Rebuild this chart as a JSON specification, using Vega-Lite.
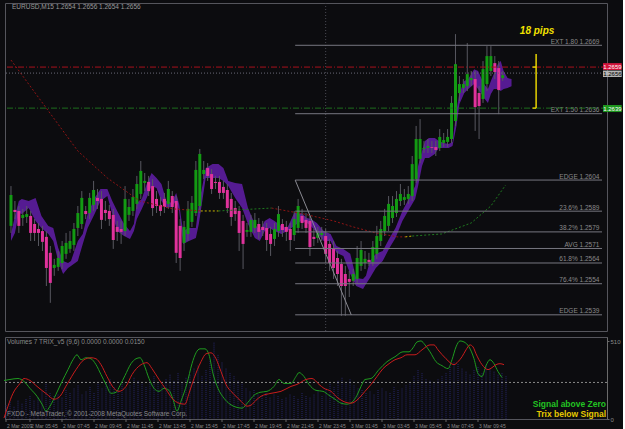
{
"$schema":"https://vega.github.io/schema/vega-lite/v6.json",
"background":"#0c0c0f",
"padding":{"left":1,"top":2,"right":0,"bottom":0},
"spacing":4,
"resolve":{"scale":{"color":"independent","x":"independent"},"axis":{"x":"independent"}},
"config":{"view":{"stroke":"#55555c","strokeWidth":1},"font":"Liberation Sans","axis":{"labelFont":"Liberation Sans","grid":false}},
"datasets":{
"candles":[
{"i":0,"o":1.25819,"c":1.25968,"h":1.26011,"l":1.25785,"v":90},
{"i":1,"o":1.25896,"c":1.25886,"h":1.25939,"l":1.25852,"v":110},
{"i":2,"o":1.25891,"c":1.25819,"h":1.25915,"l":1.25785,"v":80},
{"i":3,"o":1.25857,"c":1.25872,"h":1.25901,"l":1.25819,"v":120},
{"i":4,"o":1.25862,"c":1.25876,"h":1.25915,"l":1.25833,"v":100},
{"i":5,"o":1.25867,"c":1.25785,"h":1.25891,"l":1.25746,"v":130},
{"i":6,"o":1.25828,"c":1.25785,"h":1.25852,"l":1.25746,"v":150},
{"i":7,"o":1.25804,"c":1.25785,"h":1.25833,"l":1.25722,"v":120},
{"i":8,"o":1.25794,"c":1.25742,"h":1.25819,"l":1.25698,"v":140},
{"i":9,"o":1.25766,"c":1.25616,"h":1.25794,"l":1.25529,"v":180},
{"i":10,"o":1.25689,"c":1.25544,"h":1.25722,"l":1.25448,"v":230},
{"i":11,"o":1.25616,"c":1.25631,"h":1.25660,"l":1.25578,"v":170},
{"i":12,"o":1.25621,"c":1.25664,"h":1.25698,"l":1.25602,"v":150},
{"i":13,"o":1.25640,"c":1.25722,"h":1.25746,"l":1.25611,"v":160},
{"i":14,"o":1.25684,"c":1.25737,"h":1.25785,"l":1.25660,"v":140},
{"i":15,"o":1.25708,"c":1.25746,"h":1.25794,"l":1.25689,"v":190},
{"i":16,"o":1.25727,"c":1.25804,"h":1.25833,"l":1.25698,"v":170},
{"i":17,"o":1.25809,"c":1.25881,"h":1.25915,"l":1.25770,"v":200},
{"i":18,"o":1.25828,"c":1.25954,"h":1.25987,"l":1.25804,"v":220},
{"i":19,"o":1.25891,"c":1.25876,"h":1.25915,"l":1.25852,"v":160},
{"i":20,"o":1.25881,"c":1.25954,"h":1.25978,"l":1.25852,"v":180},
{"i":21,"o":1.25920,"c":1.25992,"h":1.26036,"l":1.25891,"v":210},
{"i":22,"o":1.25954,"c":1.25939,"h":1.25997,"l":1.25901,"v":170},
{"i":23,"o":1.25949,"c":1.25848,"h":1.25987,"l":1.25804,"v":230},
{"i":24,"o":1.25896,"c":1.25881,"h":1.25939,"l":1.25843,"v":200},
{"i":25,"o":1.25891,"c":1.25852,"h":1.25920,"l":1.25819,"v":240},
{"i":26,"o":1.25872,"c":1.25751,"h":1.25901,"l":1.25708,"v":260},
{"i":27,"o":1.25814,"c":1.25790,"h":1.25843,"l":1.25746,"v":210},
{"i":28,"o":1.25804,"c":1.25790,"h":1.25843,"l":1.25732,"v":190},
{"i":29,"o":1.25794,"c":1.25949,"h":1.26011,"l":1.25770,"v":230},
{"i":30,"o":1.25872,"c":1.25910,"h":1.25949,"l":1.25843,"v":200},
{"i":31,"o":1.25891,"c":1.25958,"h":1.25997,"l":1.25867,"v":220},
{"i":32,"o":1.25925,"c":1.26021,"h":1.26060,"l":1.25901,"v":270},
{"i":33,"o":1.25973,"c":1.26084,"h":1.26132,"l":1.25949,"v":250},
{"i":34,"o":1.26026,"c":1.26036,"h":1.26074,"l":1.25987,"v":230},
{"i":35,"o":1.26031,"c":1.25987,"h":1.26060,"l":1.25963,"v":210},
{"i":36,"o":1.26011,"c":1.25905,"h":1.26045,"l":1.25867,"v":240},
{"i":37,"o":1.25949,"c":1.25915,"h":1.25987,"l":1.25881,"v":280},
{"i":38,"o":1.25920,"c":1.25891,"h":1.25958,"l":1.25867,"v":230},
{"i":39,"o":1.25949,"c":1.25910,"h":1.25978,"l":1.25881,"v":220},
{"i":40,"o":1.25925,"c":1.25997,"h":1.26036,"l":1.25901,"v":260},
{"i":41,"o":1.25963,"c":1.25910,"h":1.25987,"l":1.25881,"v":290},
{"i":42,"o":1.25939,"c":1.25689,"h":1.25963,"l":1.25640,"v":250},
{"i":43,"o":1.25819,"c":1.25664,"h":1.25852,"l":1.25602,"v":300},
{"i":44,"o":1.25737,"c":1.25814,"h":1.25843,"l":1.25698,"v":240},
{"i":45,"o":1.25780,"c":1.25901,"h":1.25939,"l":1.25746,"v":270},
{"i":46,"o":1.25838,"c":1.25930,"h":1.25963,"l":1.25814,"v":290},
{"i":47,"o":1.25881,"c":1.26089,"h":1.26132,"l":1.25867,"v":330},
{"i":48,"o":1.25915,"c":1.26166,"h":1.26190,"l":1.25881,"v":350},
{"i":49,"o":1.26069,"c":1.26089,"h":1.26132,"l":1.26045,"v":280},
{"i":50,"o":1.26098,"c":1.26060,"h":1.26122,"l":1.26036,"v":320},
{"i":51,"o":1.26069,"c":1.25997,"h":1.26093,"l":1.25973,"v":380},
{"i":52,"o":1.26031,"c":1.26026,"h":1.26060,"l":1.25997,"v":500},
{"i":53,"o":1.26031,"c":1.25978,"h":1.26060,"l":1.25949,"v":420},
{"i":54,"o":1.26007,"c":1.25978,"h":1.26036,"l":1.25949,"v":370},
{"i":55,"o":1.25992,"c":1.25905,"h":1.26021,"l":1.25881,"v":330},
{"i":56,"o":1.25949,"c":1.25862,"h":1.25978,"l":1.25819,"v":300},
{"i":57,"o":1.25905,"c":1.25876,"h":1.25939,"l":1.25843,"v":280},
{"i":58,"o":1.25891,"c":1.25785,"h":1.25915,"l":1.25698,"v":250},
{"i":59,"o":1.25843,"c":1.25732,"h":1.25872,"l":1.25611,"v":230},
{"i":60,"o":1.25790,"c":1.25799,"h":1.25833,"l":1.25766,"v":200},
{"i":61,"o":1.25790,"c":1.25848,"h":1.25872,"l":1.25766,"v":180},
{"i":62,"o":1.25809,"c":1.25848,"h":1.25881,"l":1.25785,"v":190},
{"i":63,"o":1.25828,"c":1.25790,"h":1.25857,"l":1.25756,"v":160},
{"i":64,"o":1.25814,"c":1.25799,"h":1.25843,"l":1.25770,"v":150},
{"i":65,"o":1.25809,"c":1.25751,"h":1.25833,"l":1.25698,"v":170},
{"i":66,"o":1.25780,"c":1.25732,"h":1.25814,"l":1.25674,"v":140},
{"i":67,"o":1.25756,"c":1.25804,"h":1.25833,"l":1.25722,"v":160},
{"i":68,"o":1.25794,"c":1.25876,"h":1.25915,"l":1.25766,"v":150},
{"i":69,"o":1.25828,"c":1.25799,"h":1.25852,"l":1.25766,"v":130},
{"i":70,"o":1.25814,"c":1.25790,"h":1.25843,"l":1.25746,"v":140},
{"i":71,"o":1.25804,"c":1.25751,"h":1.25833,"l":1.25698,"v":160},
{"i":72,"o":1.25775,"c":1.25852,"h":1.25891,"l":1.25746,"v":150},
{"i":73,"o":1.25809,"c":1.25915,"h":1.25949,"l":1.25785,"v":130},
{"i":74,"o":1.25867,"c":1.25833,"h":1.25901,"l":1.25804,"v":170},
{"i":75,"o":1.25848,"c":1.25809,"h":1.25881,"l":1.25785,"v":150},
{"i":76,"o":1.25843,"c":1.25717,"h":1.25867,"l":1.25674,"v":140},
{"i":77,"o":1.25766,"c":1.25756,"h":1.25804,"l":1.25722,"v":160},
{"i":78,"o":1.25761,"c":1.25785,"h":1.25814,"l":1.25737,"v":180},
{"i":79,"o":1.25775,"c":1.25785,"h":1.25814,"l":1.25746,"v":150},
{"i":80,"o":1.25770,"c":1.25684,"h":1.25804,"l":1.25640,"v":200},
{"i":81,"o":1.25732,"c":1.25640,"h":1.25756,"l":1.25602,"v":230},
{"i":82,"o":1.25708,"c":1.25616,"h":1.25746,"l":1.25563,"v":210},
{"i":83,"o":1.25664,"c":1.25587,"h":1.25698,"l":1.25529,"v":250},
{"i":84,"o":1.25635,"c":1.25529,"h":1.25660,"l":1.25385,"v":270},
{"i":85,"o":1.25587,"c":1.25529,"h":1.25626,"l":1.25385,"v":240},
{"i":86,"o":1.25563,"c":1.25549,"h":1.25602,"l":1.25476,"v":260},
{"i":87,"o":1.25554,"c":1.25587,"h":1.25611,"l":1.25529,"v":220},
{"i":88,"o":1.25563,"c":1.25664,"h":1.25722,"l":1.25544,"v":200},
{"i":89,"o":1.25626,"c":1.25703,"h":1.25746,"l":1.25602,"v":190},
{"i":90,"o":1.25640,"c":1.25660,"h":1.25698,"l":1.25611,"v":170},
{"i":91,"o":1.25655,"c":1.25645,"h":1.25689,"l":1.25626,"v":180},
{"i":92,"o":1.25645,"c":1.25717,"h":1.25746,"l":1.25626,"v":160},
{"i":93,"o":1.25684,"c":1.25770,"h":1.25819,"l":1.25660,"v":190},
{"i":94,"o":1.25746,"c":1.25804,"h":1.25843,"l":1.25722,"v":200},
{"i":95,"o":1.25794,"c":1.25867,"h":1.25901,"l":1.25770,"v":180},
{"i":96,"o":1.25819,"c":1.25925,"h":1.25963,"l":1.25794,"v":170},
{"i":97,"o":1.25857,"c":1.25915,"h":1.25963,"l":1.25833,"v":210},
{"i":98,"o":1.25881,"c":1.25949,"h":1.25987,"l":1.25862,"v":190},
{"i":99,"o":1.25939,"c":1.25973,"h":1.26021,"l":1.25915,"v":200},
{"i":100,"o":1.25944,"c":1.25958,"h":1.25997,"l":1.25920,"v":220},
{"i":101,"o":1.25949,"c":1.25973,"h":1.26011,"l":1.25925,"v":240},
{"i":102,"o":1.25963,"c":1.26117,"h":1.26156,"l":1.25939,"v":280},
{"i":103,"o":1.26045,"c":1.26238,"h":1.26301,"l":1.26026,"v":320},
{"i":104,"o":1.26142,"c":1.26238,"h":1.26334,"l":1.26122,"v":300},
{"i":105,"o":1.26190,"c":1.26195,"h":1.26228,"l":1.26171,"v":260},
{"i":106,"o":1.26195,"c":1.26204,"h":1.26238,"l":1.26171,"v":250},
{"i":107,"o":1.26199,"c":1.26195,"h":1.26228,"l":1.26171,"v":240},
{"i":108,"o":1.26199,"c":1.26185,"h":1.26228,"l":1.26156,"v":260},
{"i":109,"o":1.26195,"c":1.26248,"h":1.26286,"l":1.26180,"v":280},
{"i":110,"o":1.26219,"c":1.26233,"h":1.26267,"l":1.26199,"v":300},
{"i":111,"o":1.26224,"c":1.26248,"h":1.26286,"l":1.26199,"v":340},
{"i":112,"o":1.26238,"c":1.26412,"h":1.26445,"l":1.26219,"v":370},
{"i":113,"o":1.26325,"c":1.26599,"h":1.26744,"l":1.26301,"v":360},
{"i":114,"o":1.26460,"c":1.26503,"h":1.26542,"l":1.26421,"v":330},
{"i":115,"o":1.26484,"c":1.26503,"h":1.26527,"l":1.26460,"v":310},
{"i":116,"o":1.26493,"c":1.26551,"h":1.26701,"l":1.26469,"v":290},
{"i":117,"o":1.26522,"c":1.26532,"h":1.26566,"l":1.26493,"v":320},
{"i":118,"o":1.26527,"c":1.26392,"h":1.26566,"l":1.26277,"v":340},
{"i":119,"o":1.26460,"c":1.26397,"h":1.26493,"l":1.26238,"v":300},
{"i":120,"o":1.26431,"c":1.26575,"h":1.26614,"l":1.26412,"v":350},
{"i":121,"o":1.26503,"c":1.26638,"h":1.26686,"l":1.26469,"v":330},
{"i":122,"o":1.26566,"c":1.26638,"h":1.26686,"l":1.26542,"v":310},
{"i":123,"o":1.26604,"c":1.26561,"h":1.26638,"l":1.26527,"v":290},
{"i":124,"o":1.26580,"c":1.26474,"h":1.26614,"l":1.26358,"v":300},
{"i":125,"o":1.26532,"c":1.26546,"h":1.26566,"l":1.26518,"v":280}
],
"band":[
{"i":0,"t":1.25780,"b":1.25746},{"i":1,"t":1.25867,"b":1.25785},{"i":2,"t":1.25939,"b":1.25881},{"i":2.75,"t":1.25949,"b":1.25876},
{"i":4.5,"t":1.25939,"b":1.25905},{"i":6.25,"t":1.25954,"b":1.25843},{"i":7.75,"t":1.25867,"b":1.25809},{"i":9.5,"t":1.25819,"b":1.25780},
{"i":10.75,"t":1.25809,"b":1.25746},{"i":12,"t":1.25713,"b":1.25650},{"i":13.25,"t":1.25650,"b":1.25587},{"i":14.5,"t":1.25640,"b":1.25616},
{"i":15.25,"t":1.25650,"b":1.25626},{"i":17,"t":1.25746,"b":1.25650},{"i":18.25,"t":1.25780,"b":1.25732},{"i":19.5,"t":1.25876,"b":1.25809},
{"i":21.25,"t":1.25954,"b":1.25876},{"i":22.75,"t":1.25997,"b":1.25939},{"i":24.5,"t":1.25997,"b":1.25963},{"i":25.75,"t":1.25939,"b":1.25876},
{"i":27,"t":1.25891,"b":1.25794},{"i":28.75,"t":1.25828,"b":1.25770},{"i":30.25,"t":1.25794,"b":1.25756},{"i":31.25,"t":1.25828,"b":1.25794},
{"i":32,"t":1.25930,"b":1.25852},{"i":33.25,"t":1.25949,"b":1.25901},{"i":34.5,"t":1.26021,"b":1.25954},{"i":35.75,"t":1.26074,"b":1.26011},
{"i":37,"t":1.26050,"b":1.26002},{"i":38.25,"t":1.26021,"b":1.25939},{"i":39.5,"t":1.25939,"b":1.25905},{"i":40.75,"t":1.25930,"b":1.25910},
{"i":42,"t":1.25978,"b":1.25939},{"i":42.75,"t":1.25925,"b":1.25891},{"i":43.75,"t":1.25794,"b":1.25732},{"i":45.25,"t":1.25809,"b":1.25746},
{"i":47,"t":1.25809,"b":1.25761},{"i":47.75,"t":1.25925,"b":1.25828},{"i":48.75,"t":1.26021,"b":1.25954},{"i":49.5,"t":1.26098,"b":1.26050},
{"i":51.25,"t":1.26117,"b":1.26050},{"i":52.75,"t":1.26117,"b":1.26050},{"i":54,"t":1.26098,"b":1.26036},{"i":55.25,"t":1.26036,"b":1.26011},
{"i":57,"t":1.26026,"b":1.25954},{"i":58.75,"t":1.26021,"b":1.25905},{"i":60.25,"t":1.25905,"b":1.25828},{"i":62,"t":1.25828,"b":1.25761},
{"i":63.25,"t":1.25794,"b":1.25746},{"i":64.5,"t":1.25843,"b":1.25794},{"i":65.75,"t":1.25857,"b":1.25809},{"i":67,"t":1.25843,"b":1.25794},
{"i":68.75,"t":1.25819,"b":1.25780},{"i":70.25,"t":1.25809,"b":1.25794},{"i":72,"t":1.25881,"b":1.25819},{"i":73.75,"t":1.25881,"b":1.25843},
{"i":75.25,"t":1.25857,"b":1.25833},{"i":76.25,"t":1.25852,"b":1.25819},{"i":77.75,"t":1.25833,"b":1.25785},{"i":79.5,"t":1.25794,"b":1.25746},
{"i":81.25,"t":1.25780,"b":1.25746},{"i":82.75,"t":1.25722,"b":1.25689},{"i":84.5,"t":1.25708,"b":1.25674},{"i":86.25,"t":1.25684,"b":1.25587},
{"i":87.75,"t":1.25568,"b":1.25529},{"i":89.5,"t":1.25563,"b":1.25515},{"i":90.25,"t":1.25578,"b":1.25539},{"i":91.25,"t":1.25650,"b":1.25568},
{"i":92.75,"t":1.25684,"b":1.25616},{"i":94.5,"t":1.25698,"b":1.25650},{"i":96.25,"t":1.25761,"b":1.25713},{"i":97.75,"t":1.25809,"b":1.25761},
{"i":99.5,"t":1.25891,"b":1.25843},{"i":101.25,"t":1.25954,"b":1.25901},{"i":102.75,"t":1.26011,"b":1.25949},{"i":103.5,"t":1.26108,"b":1.26011},
{"i":104.5,"t":1.26180,"b":1.26108},{"i":105.25,"t":1.26228,"b":1.26146},{"i":106.25,"t":1.26243,"b":1.26146},{"i":107.75,"t":1.26243,"b":1.26166},
{"i":108.75,"t":1.26228,"b":1.26195},{"i":110,"t":1.26219,"b":1.26195},{"i":111.25,"t":1.26214,"b":1.26195},{"i":112.25,"t":1.26224,"b":1.26204},
{"i":113.25,"t":1.26373,"b":1.26301},{"i":114,"t":1.26460,"b":1.26407},{"i":115.25,"t":1.26518,"b":1.26460},{"i":116.25,"t":1.26527,"b":1.26479},
{"i":117.75,"t":1.26575,"b":1.26503},{"i":118.75,"t":1.26566,"b":1.26479},{"i":120.25,"t":1.26503,"b":1.26436},{"i":121.25,"t":1.26479,"b":1.26412},
{"i":122,"t":1.26518,"b":1.26455},{"i":122.75,"t":1.26551,"b":1.26479},{"i":123.75,"t":1.26599,"b":1.26479},{"i":124.5,"t":1.26614,"b":1.26469},
{"i":125.25,"t":1.26566,"b":1.26479},{"i":126.25,"t":1.26532,"b":1.26484},{"i":127.25,"t":1.26527,"b":1.26493}
],
"ma":[
{"i":0,"p":1.26619,"s":"r1"},{"i":17,"p":1.26180,"s":"r1"},{"i":24.5,"p":1.26050,"s":"r1"},{"i":32.75,"p":1.25939,"s":"r1"},{"i":41.25,"p":1.25901,"s":"r1"},{"i":48.25,"p":1.25891,"s":"r1"},
{"i":48.25,"p":1.25891,"s":"y1"},{"i":52.75,"p":1.25891,"s":"y1"},
{"i":52.75,"p":1.25891,"s":"g1"},{"i":66.25,"p":1.25905,"s":"g1"},
{"i":66.25,"p":1.25905,"s":"r2"},{"i":74.5,"p":1.25876,"s":"r2"},{"i":82,"p":1.25843,"s":"r2"},{"i":87,"p":1.25814,"s":"r2"},{"i":92.75,"p":1.25785,"s":"r2"},{"i":98.25,"p":1.25766,"s":"r2"},{"i":100.25,"p":1.25766,"s":"r2"},
{"i":100.25,"p":1.25766,"s":"y2"},{"i":102,"p":1.25770,"s":"y2"},
{"i":102,"p":1.25770,"s":"g2"},{"i":109.5,"p":1.25780,"s":"g2"},{"i":117,"p":1.25833,"s":"g2"},{"i":122,"p":1.25915,"s":"g2"},{"i":125.75,"p":1.26016,"s":"g2"}
],
"fib":[
{"p":1.2669,"label":"EXT  1.80  1.2669"},
{"p":1.2636,"label":"EXT  1.50  1.2636"},
{"p":1.2604,"label":"EDGE  1.2604"},
{"p":1.2589,"label":"23.6%  1.2589"},
{"p":1.2579,"label":"38.2%  1.2579"},
{"p":1.2571,"label":"AVG  1.2571"},
{"p":1.2564,"label":"61.8%  1.2564"},
{"p":1.2554,"label":"76.4%  1.2554"},
{"p":1.2539,"label":"EDGE  1.2539"}
],
"boxes":[
{"label":"1.2659","p":1.26587,"top":1.26604,"bot":1.26571,"k":"r"},
{"label":"1.2656","p":1.26553,"top":1.26568,"bot":1.26537,"k":"b"},
{"label":"1.2639","p":1.26385,"top":1.26402,"bot":1.26368,"k":"g"}
],
"dates":[
{"i":0,"t":"2 Mar 2009"},{"i":6,"t":"2 Mar 05:45"},{"i":14,"t":"2 Mar 07:45"},{"i":22,"t":"2 Mar 09:45"},
{"i":30,"t":"2 Mar 11:45"},{"i":38,"t":"2 Mar 13:45"},{"i":46,"t":"2 Mar 15:45"},{"i":54,"t":"2 Mar 17:45"},
{"i":62,"t":"2 Mar 19:45"},{"i":70,"t":"2 Mar 21:45"},{"i":78,"t":"2 Mar 23:45"},{"i":86,"t":"3 Mar 01:45"},
{"i":94,"t":"3 Mar 03:45"},{"i":102,"t":"3 Mar 05:45"},{"i":110,"t":"3 Mar 07:45"},{"i":118,"t":"3 Mar 09:45"}
],
"trix":[
{"i":-0.5,"v":0.0002,"s":"g"},{"i":1,"v":0.0003,"s":"g"},{"i":3,"v":0.0004,"s":"g"},{"i":4.5,"v":0.0001,"s":"g"},{"i":6,"v":-0.0006,"s":"g"},
{"i":7.75,"v":-0.0014,"s":"g"},{"i":9,"v":-0.0022,"s":"g"},{"i":10,"v":-0.0029,"s":"g"},{"i":11,"v":-0.0024,"s":"g"},{"i":12.5,"v":-0.0012,"s":"g"},
{"i":14,"v":0.0001,"s":"g"},{"i":15.5,"v":0.0013,"s":"g"},{"i":16.75,"v":0.0023,"s":"g"},{"i":17.75,"v":0.0028,"s":"g"},{"i":18.75,"v":0.0023,"s":"g"},
{"i":20,"v":0.0025,"s":"g"},{"i":21.25,"v":0.0024,"s":"g"},{"i":22.5,"v":0.0018,"s":"g"},{"i":23.75,"v":0.0008,"s":"g"},{"i":25,"v":-0.0002,"s":"g"},
{"i":26.25,"v":-0.0011,"s":"g"},{"i":27.5,"v":-0.0010,"s":"g"},{"i":28.5,"v":-0.0003,"s":"g"},{"i":29.75,"v":0.0007,"s":"g"},{"i":31.25,"v":0.0019,"s":"g"},
{"i":32.5,"v":0.0024,"s":"g"},{"i":33.5,"v":0.0025,"s":"g"},{"i":34.5,"v":0.0018,"s":"g"},{"i":35.75,"v":0.0004,"s":"g"},{"i":37,"v":-0.0006,"s":"g"},
{"i":38.25,"v":-0.0009,"s":"g"},{"i":39.5,"v":-0.0006,"s":"g"},{"i":40.75,"v":-0.0008,"s":"g"},{"i":41.75,"v":-0.0017,"s":"g"},{"i":42.75,"v":-0.0029,"s":"g"},
{"i":43.75,"v":-0.0019,"s":"g"},{"i":45.25,"v":-0.0001,"s":"g"},{"i":46.5,"v":0.0019,"s":"g"},{"i":47.5,"v":0.0030,"s":"g"},{"i":48.5,"v":0.0034,"s":"g"},
{"i":49.75,"v":0.0034,"s":"g"},{"i":50.75,"v":0.0028,"s":"g"},{"i":51.75,"v":0.0009,"s":"g"},{"i":53,"v":-0.0006,"s":"g"},{"i":54.5,"v":-0.0016,"s":"g"},
{"i":56,"v":-0.0022,"s":"g"},{"i":57.5,"v":-0.0025,"s":"g"},{"i":59,"v":-0.0026,"s":"g"},{"i":60.5,"v":-0.0020,"s":"g"},{"i":62,"v":-0.0013,"s":"g"},
{"i":63.5,"v":-0.0010,"s":"g"},{"i":65.25,"v":-0.0009,"s":"g"},{"i":67,"v":-0.0004,"s":"g"},{"i":68.25,"v":0.0003,"s":"g"},{"i":69.5,"v":-0.0001,"s":"g"},
{"i":71.25,"v":-0.0001,"s":"g"},{"i":72.5,"v":0.0006,"s":"g"},{"i":73.25,"v":0.0010,"s":"g"},{"i":74.5,"v":0.0006,"s":"g"},{"i":75.75,"v":-0.0002,"s":"g"},
{"i":77.5,"v":-0.0008,"s":"g"},{"i":79.25,"v":-0.0009,"s":"g"},{"i":80.75,"v":-0.0013,"s":"g"},{"i":82.25,"v":-0.0017,"s":"g"},{"i":83.75,"v":-0.0021,"s":"g"},
{"i":85.25,"v":-0.0022,"s":"g"},{"i":86.5,"v":-0.0020,"s":"g"},{"i":87.75,"v":-0.0013,"s":"g"},{"i":88.75,"v":-0.0004,"s":"g"},{"i":89.75,"v":0.0003,"s":"g"},
{"i":91.25,"v":0.0004,"s":"g"},{"i":93.25,"v":0.0013,"s":"g"},{"i":95.25,"v":0.0021,"s":"g"},{"i":97.25,"v":0.0026,"s":"g"},{"i":99.25,"v":0.0031,"s":"g"},
{"i":100.75,"v":0.0031,"s":"g"},{"i":101.75,"v":0.0035,"s":"g"},{"i":102.75,"v":0.0041,"s":"g"},{"i":103.75,"v":0.0042,"s":"g"},{"i":104.75,"v":0.0038,"s":"g"},
{"i":106,"v":0.0031,"s":"g"},{"i":107.5,"v":0.0021,"s":"g"},{"i":109,"v":0.0017,"s":"g"},{"i":110.5,"v":0.0014,"s":"g"},{"i":111.5,"v":0.0023,"s":"g"},
{"i":112.5,"v":0.0036,"s":"g"},{"i":113.5,"v":0.0042,"s":"g"},{"i":114.5,"v":0.0041,"s":"g"},{"i":115.75,"v":0.0036,"s":"g"},{"i":117,"v":0.0024,"s":"g"},
{"i":118,"v":0.0009,"s":"g"},{"i":119,"v":0.0006,"s":"g"},{"i":120,"v":0.0017,"s":"g"},{"i":121,"v":0.0023,"s":"g"},{"i":122,"v":0.0019,"s":"g"},
{"i":123,"v":0.0011,"s":"g"},{"i":124,"v":0.0005,"s":"g"},
{"i":-0.5,"v":-0.0036,"s":"r"},{"i":0.5,"v":-0.0024,"s":"r"},{"i":1.75,"v":-0.0011,"s":"r"},{"i":3.5,"v":-0.0001,"s":"r"},{"i":4.5,"v":0.0004,"s":"r"},
{"i":6,"v":0.0002,"s":"r"},{"i":7.75,"v":-0.0004,"s":"r"},{"i":10.25,"v":-0.0012,"s":"r"},{"i":12,"v":-0.0017,"s":"r"},{"i":13.25,"v":-0.0015,"s":"r"},
{"i":15.25,"v":-0.0002,"s":"r"},{"i":17.5,"v":0.0013,"s":"r"},{"i":19.5,"v":0.0023,"s":"r"},{"i":21.25,"v":0.0025,"s":"r"},{"i":22.5,"v":0.0024,"s":"r"},
{"i":23.75,"v":0.0018,"s":"r"},{"i":25.25,"v":0.0006,"s":"r"},{"i":27,"v":-0.0006,"s":"r"},{"i":28.25,"v":-0.0009,"s":"r"},{"i":30,"v":-0.0004,"s":"r"},
{"i":31.5,"v":0.0008,"s":"r"},{"i":33.75,"v":0.0018,"s":"r"},{"i":35.25,"v":0.0020,"s":"r"},{"i":36.5,"v":0.0014,"s":"r"},{"i":38.25,"v":0.0003,"s":"r"},
{"i":40,"v":-0.0007,"s":"r"},{"i":41.5,"v":-0.0016,"s":"r"},{"i":43.25,"v":-0.0021,"s":"r"},{"i":44.75,"v":-0.0022,"s":"r"},{"i":45.75,"v":-0.0011,"s":"r"},
{"i":47,"v":0.0004,"s":"r"},{"i":48.75,"v":0.0021,"s":"r"},{"i":50,"v":0.0029,"s":"r"},{"i":51.25,"v":0.0030,"s":"r"},{"i":52.5,"v":0.0024,"s":"r"},
{"i":53.75,"v":0.0011,"s":"r"},{"i":55,"v":-0.0002,"s":"r"},{"i":57,"v":-0.0012,"s":"r"},{"i":58.75,"v":-0.0019,"s":"r"},{"i":60.25,"v":-0.0024,"s":"r"},
{"i":61.25,"v":-0.0023,"s":"r"},{"i":62.5,"v":-0.0018,"s":"r"},{"i":63.75,"v":-0.0014,"s":"r"},{"i":66.25,"v":-0.0011,"s":"r"},{"i":68.75,"v":-0.0009,"s":"r"},
{"i":71.25,"v":-0.0004,"s":"r"},{"i":72.75,"v":-0.0002,"s":"r"},{"i":75,"v":0.0003,"s":"r"},{"i":76.5,"v":0.0004,"s":"r"},{"i":78.25,"v":-0.0002,"s":"r"},
{"i":79.5,"v":-0.0006,"s":"r"},{"i":81.25,"v":-0.0009,"s":"r"},{"i":82.75,"v":-0.0015,"s":"r"},{"i":84.25,"v":-0.0019,"s":"r"},{"i":86.25,"v":-0.0021,"s":"r"},
{"i":88.25,"v":-0.0016,"s":"r"},{"i":89.75,"v":-0.0009,"s":"r"},{"i":91.25,"v":-0.0002,"s":"r"},{"i":92.75,"v":0.0006,"s":"r"},{"i":94.25,"v":0.0014,"s":"r"},
{"i":95.75,"v":0.0019,"s":"r"},{"i":97.25,"v":0.0023,"s":"r"},{"i":98.75,"v":0.0025,"s":"r"},{"i":100.25,"v":0.0028,"s":"r"},{"i":102.25,"v":0.0028,"s":"r"},
{"i":104,"v":0.0033,"s":"r"},{"i":106,"v":0.0038,"s":"r"},{"i":107,"v":0.0038,"s":"r"},{"i":108,"v":0.0033,"s":"r"},{"i":110,"v":0.0024,"s":"r"},
{"i":112,"v":0.0018,"s":"r"},{"i":113,"v":0.0021,"s":"r"},{"i":114,"v":0.0026,"s":"r"},{"i":115,"v":0.0033,"s":"r"},{"i":116,"v":0.0038,"s":"r"},
{"i":116.75,"v":0.0036,"s":"r"},{"i":117.5,"v":0.0029,"s":"r"},{"i":119,"v":0.0018,"s":"r"},{"i":120.5,"v":0.0013,"s":"r"},{"i":121.5,"v":0.0015,"s":"r"},
{"i":122.5,"v":0.0018,"s":"r"},{"i":123.5,"v":0.0019,"s":"r"},{"i":124.5,"v":0.0018,"s":"r"}
]
},
"vconcat":[
{
"width":602,"height":328,
"layer":[
{"data":{"values":[{"i":80}]},"mark":{"type":"rule","color":"#4a4a52","strokeDash":[1,2]},
 "encoding":{"x":{"field":"i","type":"quantitative","scale":{"domain":[-0.25,150.25],"nice":false,"zero":false},"axis":null}}},
{"data":{"name":"band"},"mark":{"type":"area","color":"#5a1c9a","opacity":0.95},
 "encoding":{"x":{"field":"i","type":"quantitative","axis":null},
  "y":{"field":"t","type":"quantitative","scale":{"domain":[1.25312,1.26894],"nice":false,"zero":false},
   "axis":{"orient":"right","title":null,"values":[1.2535,1.2545,1.2555,1.2565,1.2575,1.2585,1.2595,1.2605,1.2615,1.2625,1.2635,1.2645,1.2655,1.2665,1.2675,1.2685],"format":".4f","labelFontSize":6,"labelColor":"#8a8a8a","tickColor":"#6a6a6a","tickSize":2,"domainColor":"#6a6a6a","labelPadding":1,"grid":false}},
  "y2":{"field":"b"}}},
{"data":{"name":"candles"},"mark":{"type":"rule","color":"#585860","strokeWidth":1},
 "encoding":{"x":{"field":"i","type":"quantitative","axis":null},"y":{"field":"l","type":"quantitative","axis":null},"y2":{"field":"h"}}},
{"data":{"name":"candles"},"mark":{"type":"bar","width":3},
 "encoding":{"x":{"field":"i","type":"quantitative","axis":null},"y":{"field":"o","type":"quantitative","axis":null},"y2":{"field":"c"},
  "color":{"condition":{"test":"datum.c >= datum.o","value":"#139a13"},"value":"#e0329c"}}},
{"data":{"name":"ma"},"mark":{"type":"line","strokeDash":[2,2],"strokeWidth":1},
 "encoding":{"x":{"field":"i","type":"quantitative","axis":null},"y":{"field":"p","type":"quantitative","axis":null},
  "color":{"field":"s","type":"nominal","scale":{"domain":["r1","y1","g1","r2","y2","g2"],"range":["#8f1414","#c8b400","#1f7a1f","#8f1414","#c8b400","#1f7a1f"]},"legend":null}}},
{"data":{"name":"fib"},"mark":{"type":"rule","color":"#777780"},
 "encoding":{"x":{"datum":72.25,"type":"quantitative","axis":null},"x2":{"datum":150.25},"y":{"field":"p","type":"quantitative","axis":null}}},
{"data":{"values":[{"a":1.2604,"b":1.2539}]},"mark":{"type":"rule","color":"#8a8a92"},
 "encoding":{"x":{"datum":72.25,"type":"quantitative","axis":null},"x2":{"datum":86.5},"y":{"field":"a","type":"quantitative","axis":null},"y2":{"field":"b"}}},
{"data":{"name":"fib"},"mark":{"type":"text","align":"right","baseline":"bottom","dy":-0.5,"fontSize":6.5,"color":"#8a8a8a"},
 "encoding":{"x":{"datum":149.6,"type":"quantitative","axis":null},"y":{"field":"p","type":"quantitative","axis":null},"text":{"field":"label"}}},
{"data":{"values":[{"p":1.26585}]},"mark":{"type":"rule","color":"#a8101c","strokeDash":[6,2,1,2]},
 "encoding":{"y":{"field":"p","type":"quantitative","axis":null}}},
{"data":{"values":[{"p":1.26556}]},"mark":{"type":"rule","color":"#6a6a78","strokeDash":[1,2]},
 "encoding":{"y":{"field":"p","type":"quantitative","axis":null}}},
{"data":{"values":[{"p":1.26387}]},"mark":{"type":"rule","color":"#1e6e1e","strokeDash":[6,2,1,2]},
 "encoding":{"y":{"field":"p","type":"quantitative","axis":null}}},
{"data":{"values":[{"a":1.26648,"b":1.26387}]},"mark":{"type":"rule","color":"#e8d400","strokeWidth":1.5},
 "encoding":{"x":{"datum":133.5,"type":"quantitative","axis":null},"y":{"field":"a","type":"quantitative","axis":null},"y2":{"field":"b"}}},
{"data":{"values":[{"p":1.26585},{"p":1.26387}]},"mark":{"type":"rule","color":"#e8d400","strokeWidth":1.5},
 "encoding":{"x":{"datum":132.6,"type":"quantitative","axis":null},"x2":{"datum":133.5},"y":{"field":"p","type":"quantitative","axis":null}}},
{"data":{"values":[{"t":"18 pips"}]},"mark":{"type":"text","fontSize":10,"fontWeight":"bold","fontStyle":"italic","color":"#f2e200","align":"center","baseline":"middle"},
 "encoding":{"x":{"datum":133.75,"type":"quantitative","axis":null},"y":{"datum":1.26759,"type":"quantitative","axis":null},"text":{"field":"t"}}},
{"data":{"values":[{"t":"EURUSD,M15  1.2654 1.2656 1.2654 1.2656"}]},"mark":{"type":"text","fontSize":6.5,"color":"#9a9a9a","align":"left","baseline":"middle","dx":1},
 "encoding":{"x":{"datum":0,"type":"quantitative","axis":null},"y":{"datum":1.26874,"type":"quantitative","axis":null},"text":{"field":"t"}}},
{"data":{"name":"boxes"},"mark":{"type":"rect"},
 "encoding":{"x":{"datum":150.5,"type":"quantitative","axis":null},"x2":{"datum":155.25},"y":{"field":"top","type":"quantitative","axis":null},"y2":{"field":"bot"},
  "color":{"condition":[{"test":"datum.k == 'r'","value":"#d4143c"},{"test":"datum.k == 'g'","value":"#1e961e"}],"value":"#b4b4b4"}}},
{"data":{"name":"boxes"},"mark":{"type":"text","fontSize":6,"align":"center","baseline":"middle"},
 "encoding":{"x":{"datum":152.9,"type":"quantitative","axis":null},"y":{"field":"p","type":"quantitative","axis":null},"text":{"field":"label"},
  "color":{"condition":{"test":"datum.k == 'b'","value":"#000000"},"value":"#ffffff"}}}
]
},
{
"width":602,"height":82,
"resolve":{"scale":{"y":"independent"}},
"layer":[
{"data":{"name":"candles"},"mark":{"type":"rule","color":"#28286e","strokeDash":[1,1],"strokeWidth":1},
 "encoding":{"x":{"field":"i","type":"quantitative","scale":{"domain":[-0.25,150.25],"nice":false,"zero":false},"axis":null},
  "y":{"field":"v","type":"quantitative","scale":{"domain":[0,537],"nice":false,"zero":false},
   "axis":{"orient":"right","title":null,"values":[0,510],"format":"d","labelFontSize":6,"labelColor":"#8a8a8a","tickColor":"#6a6a6a","tickSize":2,"domainColor":"#6a6a6a","labelPadding":1,"grid":false}},
  "y2":{"datum":0}}},
{"data":{"values":[{"z":0}]},"mark":{"type":"rule","color":"#8a8a8a","strokeDash":[2,2]},
 "encoding":{"y":{"field":"z","type":"quantitative","scale":{"domain":[-0.0037,0.0046],"nice":false,"zero":false},"axis":null}}},
{"data":{"name":"trix"},"mark":{"type":"line","strokeWidth":1,"interpolate":"monotone"},
 "encoding":{"x":{"field":"i","type":"quantitative","axis":null},
  "y":{"field":"v","type":"quantitative","scale":{"domain":[-0.0037,0.0046],"nice":false,"zero":false},"axis":null},
  "color":{"field":"s","type":"nominal","scale":{"domain":["g","r"],"range":["#1f9a1f","#c81c1c"]},"legend":null}}},
{"data":{"name":"dates"},"mark":{"type":"rule","color":"#6a6a6a"},
 "encoding":{"x":{"field":"i","type":"quantitative","axis":null},
  "y":{"datum":-0.0037,"type":"quantitative","scale":{"domain":[-0.0037,0.0046],"nice":false,"zero":false},"axis":null},"y2":{"datum":-0.0040}}},
{"data":{"name":"dates"},"mark":{"type":"text","fontSize":5,"color":"#8a8a8a","align":"left","baseline":"middle","dx":1,"dy":7},
 "encoding":{"x":{"field":"i","type":"quantitative","axis":null},
  "y":{"datum":-0.0037,"type":"quantitative","scale":{"domain":[-0.0037,0.0046],"nice":false,"zero":false},"axis":null},"text":{"field":"t"}}},
{"data":{"values":[{"t":"Volumes 7     TRIX_v5 (9,6)   0.0000  0.0000  0.0150"}]},"mark":{"type":"text","fontSize":6.5,"color":"#8a8a8a","align":"left","baseline":"middle","dx":1},
 "encoding":{"x":{"datum":0,"type":"quantitative","axis":null},"y":{"datum":0.0041,"type":"quantitative","scale":{"domain":[-0.0037,0.0046],"nice":false,"zero":false},"axis":null},"text":{"field":"t"}}},
{"data":{"values":[{"t":"FXDD - MetaTrader, © 2001-2008 MetaQuotes Software Corp."}]},"mark":{"type":"text","fontSize":6.5,"color":"#8a8a8a","align":"left","baseline":"middle","dx":1},
 "encoding":{"x":{"datum":0,"type":"quantitative","axis":null},"y":{"datum":-0.0032,"type":"quantitative","scale":{"domain":[-0.0037,0.0046],"nice":false,"zero":false},"axis":null},"text":{"field":"t"}}},
{"data":{"values":[{"t":"Signal above Zero"}]},"mark":{"type":"text","fontSize":8.5,"fontWeight":"bold","color":"#22c322","align":"right","baseline":"middle"},
 "encoding":{"x":{"datum":150,"type":"quantitative","axis":null},"y":{"datum":-0.0022,"type":"quantitative","scale":{"domain":[-0.0037,0.0046],"nice":false,"zero":false},"axis":null},"text":{"field":"t"}}},
{"data":{"values":[{"t":"Trix below Signal"}]},"mark":{"type":"text","fontSize":8.5,"fontWeight":"bold","color":"#e6c800","align":"right","baseline":"middle"},
 "encoding":{"x":{"datum":150,"type":"quantitative","axis":null},"y":{"datum":-0.0032,"type":"quantitative","scale":{"domain":[-0.0037,0.0046],"nice":false,"zero":false},"axis":null},"text":{"field":"t"}}}
]
}
]
}
